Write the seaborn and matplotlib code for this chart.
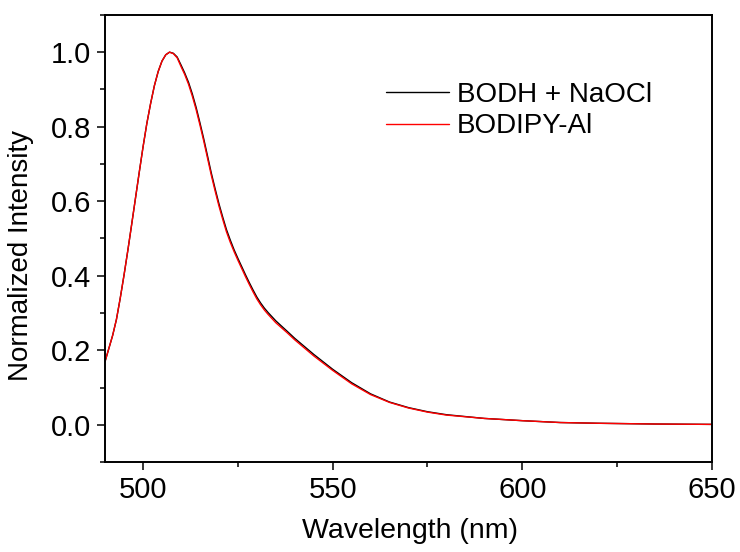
import pandas as pd
import matplotlib.pyplot as plt
from matplotlib.ticker import MultipleLocator
import seaborn as sns

# Wavelength (nm) and normalized intensity
wavelength = [490, 491, 492, 493, 494, 495, 496, 497, 498, 499, 500, 501, 502, 503,
              504, 505, 506, 507, 508, 509, 510, 511, 512, 513, 514, 515, 516, 517,
              518, 519, 520, 521, 522, 523, 524, 525, 526, 527, 528, 529, 530, 531,
              532, 533, 535, 538, 540, 545, 550, 555, 560, 565, 570, 575, 580, 590,
              600, 610, 620, 635, 650]
bodh_naocl = [0.170, 0.205, 0.240, 0.283, 0.340, 0.402, 0.468, 0.537, 0.607, 0.677,
              0.745, 0.808, 0.862, 0.910, 0.948, 0.976, 0.993, 1.000, 0.997, 0.987,
              0.966, 0.944, 0.919, 0.888, 0.852, 0.811, 0.768, 0.722, 0.676, 0.634,
              0.594, 0.558, 0.524, 0.496, 0.470, 0.447, 0.425, 0.403, 0.382, 0.362,
              0.343, 0.327, 0.313, 0.301, 0.279, 0.251, 0.232, 0.189, 0.149, 0.113,
              0.083, 0.061, 0.046, 0.035, 0.027, 0.017, 0.011, 0.006, 0.004, 0.002,
              0.001]
bodipy_al = [0.170, 0.205, 0.240, 0.283, 0.340, 0.402, 0.468, 0.537, 0.607, 0.677,
             0.745, 0.808, 0.862, 0.910, 0.948, 0.976, 0.993, 1.000, 0.996, 0.985,
             0.962, 0.940, 0.914, 0.882, 0.846, 0.805, 0.762, 0.716, 0.670, 0.628,
             0.588, 0.552, 0.518, 0.490, 0.465, 0.442, 0.420, 0.398, 0.377, 0.357,
             0.338, 0.322, 0.308, 0.296, 0.274, 0.247, 0.228, 0.185, 0.146, 0.110,
             0.081, 0.060, 0.045, 0.034, 0.026, 0.017, 0.011, 0.006, 0.004, 0.002,
             0.001]
series_names = ["BODH + NaOCl", "BODIPY-Al"]

df = pd.concat([
    pd.DataFrame({"Wavelength": wavelength, "Intensity": bodh_naocl, "Sample": series_names[0]}),
    pd.DataFrame({"Wavelength": wavelength, "Intensity": bodipy_al, "Sample": series_names[1]}),
])

sns.set_style("ticks")
plt.rcParams["font.family"] = ["Liberation Sans", "DejaVu Sans"]
plt.rcParams["text.color"] = "black"
plt.rcParams["axes.labelcolor"] = "black"
plt.rcParams["xtick.color"] = "black"
plt.rcParams["ytick.color"] = "black"

fig = plt.figure(figsize=(7.4, 5.52), dpi=100)
ax = fig.add_axes([0.142, 0.163, 0.820, 0.810])

sns.lineplot(data=df, x="Wavelength", y="Intensity", hue="Sample",
             palette={series_names[0]: "black", series_names[1]: "red"},
             linewidth=1.0, ax=ax, legend=False)

ax.set_xlim(490, 650)
ax.set_ylim(-0.1, 1.1)
ax.xaxis.set_major_locator(MultipleLocator(50))
ax.xaxis.set_minor_locator(MultipleLocator(25))
ax.yaxis.set_major_locator(MultipleLocator(0.2))
ax.yaxis.set_minor_locator(MultipleLocator(0.1))
ax.yaxis.set_major_formatter(plt.FuncFormatter(lambda v, p: f"{v:.1f}"))

ax.tick_params(which="major", direction="out", length=6, width=1.1, labelsize=21, pad=4)
ax.tick_params(which="minor", direction="out", length=3.8, width=1.1)
ax.tick_params(top=False, right=False)
for s in ax.spines.values():
    s.set_linewidth(1.4)
    s.set_color("black")

ax.set_xlabel("Wavelength (nm)", fontsize=20.5)
ax.set_ylabel("Normalized Intensity", fontsize=20)
ax.xaxis.set_label_coords(0.502, -0.125)
ax.yaxis.set_label_coords(-0.117, 0.461)

handles = [plt.Line2D([], [], color="black", lw=1.0),
           plt.Line2D([], [], color="red", lw=1.0)]
fig.legend(handles, series_names, loc="upper left", bbox_to_anchor=(0.503, 0.877),
           frameon=False, fontsize=20, borderpad=0, handlelength=2.25,
           handletextpad=0.3, labelspacing=0.2)

fig.savefig("out.png", dpi=100)
